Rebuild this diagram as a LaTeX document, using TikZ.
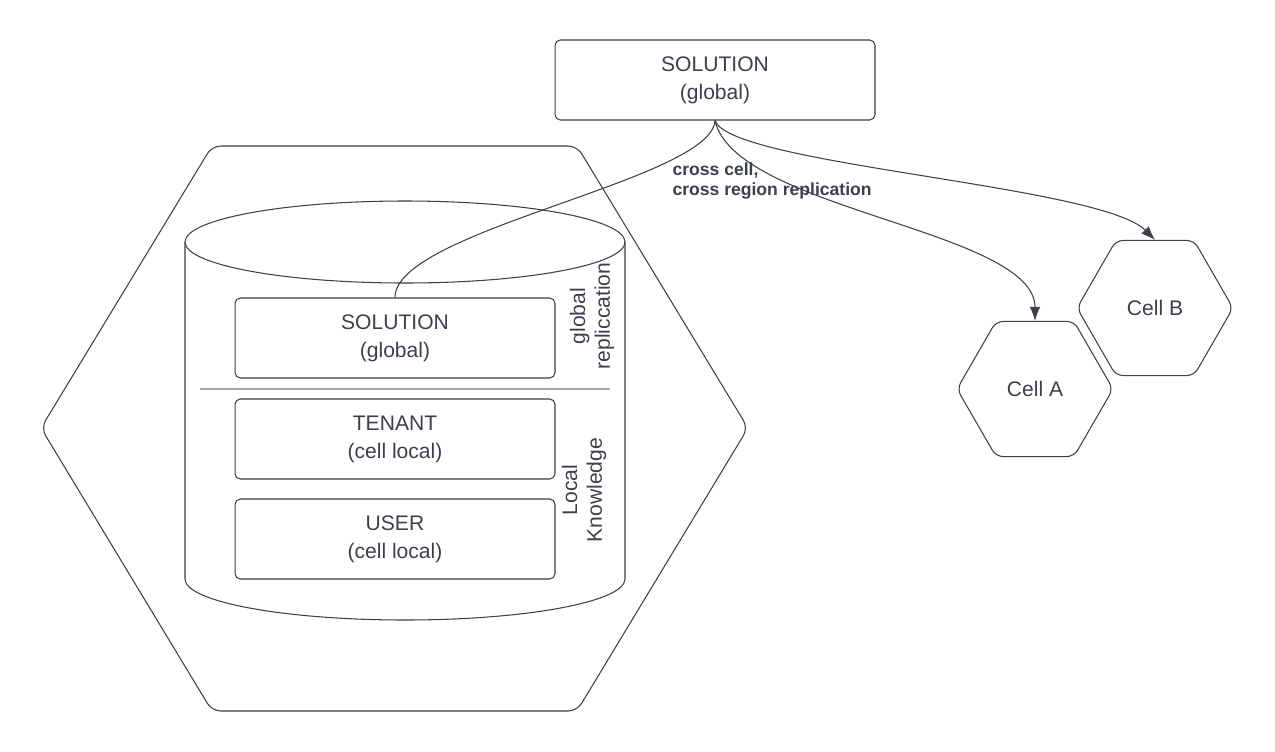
\documentclass[tikz,border=0pt]{standalone}
\usepackage{fontspec}
\setmainfont{Liberation Sans}
\usetikzlibrary{shapes.geometric,arrows.meta}
\definecolor{ink}{RGB}{58,65,74}

\begin{document}
\begin{tikzpicture}[x=0.02cm,y=-0.02cm,color=ink,line width=0.6pt,
  box/.style={draw,rounded corners=3pt,minimum width=6.4cm,minimum height=1.6cm,align=center,font=\fontsize{12}{16}\selectfont},
  cell/.style={draw,regular polygon,regular polygon sides=6,minimum size=3.12cm,rounded corners=4pt,font=\fontsize{12}{16}\selectfont},
  side/.style={rotate=90,align=center,font=\fontsize{12}{14}\selectfont},
  flow/.style={-{Latex[length=8pt,width=6pt]}}]
\useasboundingbox (0,0) rectangle (1275,751);
%region hexagon
\draw [rounded corners=5pt] (41,428) -- (212,146) -- (577,146) -- (748,428) -- (577,711) -- (212,711) -- cycle;
%database
\draw (405,242) ellipse [x radius=220, y radius=41];
\draw (185,242) -- (185,579) arc [start angle=180, end angle=0, x radius=220, y radius=41] -- (625,242);
\draw [gray!70] (200,389) -- (610,389);
\node [box] (isol) at (395,338) {SOLUTION\\(global)};
\node [box] (ten) at (395,439) {TENANT\\(cell local)};
\node [box] (usr) at (395,539) {USER\\(cell local)};
\node [side] (glob) at (592,316) {global\\repliccation};
\node [side] (loc) at (584,490) {Local\\Knowledge};
%global solution
\node [box] (sol) at (715,80) {SOLUTION\\(global)};
%cells
\node [cell] (cellA) at (1035,389) {Cell A};
\node [cell] (cellB) at (1155,308) {Cell B};
%replication
\draw (sol.south) .. controls (712,180) and (395,230) .. (isol.north);
\draw [flow] (sol.south) .. controls (735,210) and (1035,230) .. (cellA.north);
\draw [flow] (sol.south) .. controls (730,165) and (1100,185) .. (cellB.north);
\node [anchor=west,inner sep=0pt,align=left,font=\fontsize{10}{11.5}\selectfont\bfseries] (lbl) at (672,181) {cross cell,\\cross region replication};
\end{tikzpicture}
\end{document}
